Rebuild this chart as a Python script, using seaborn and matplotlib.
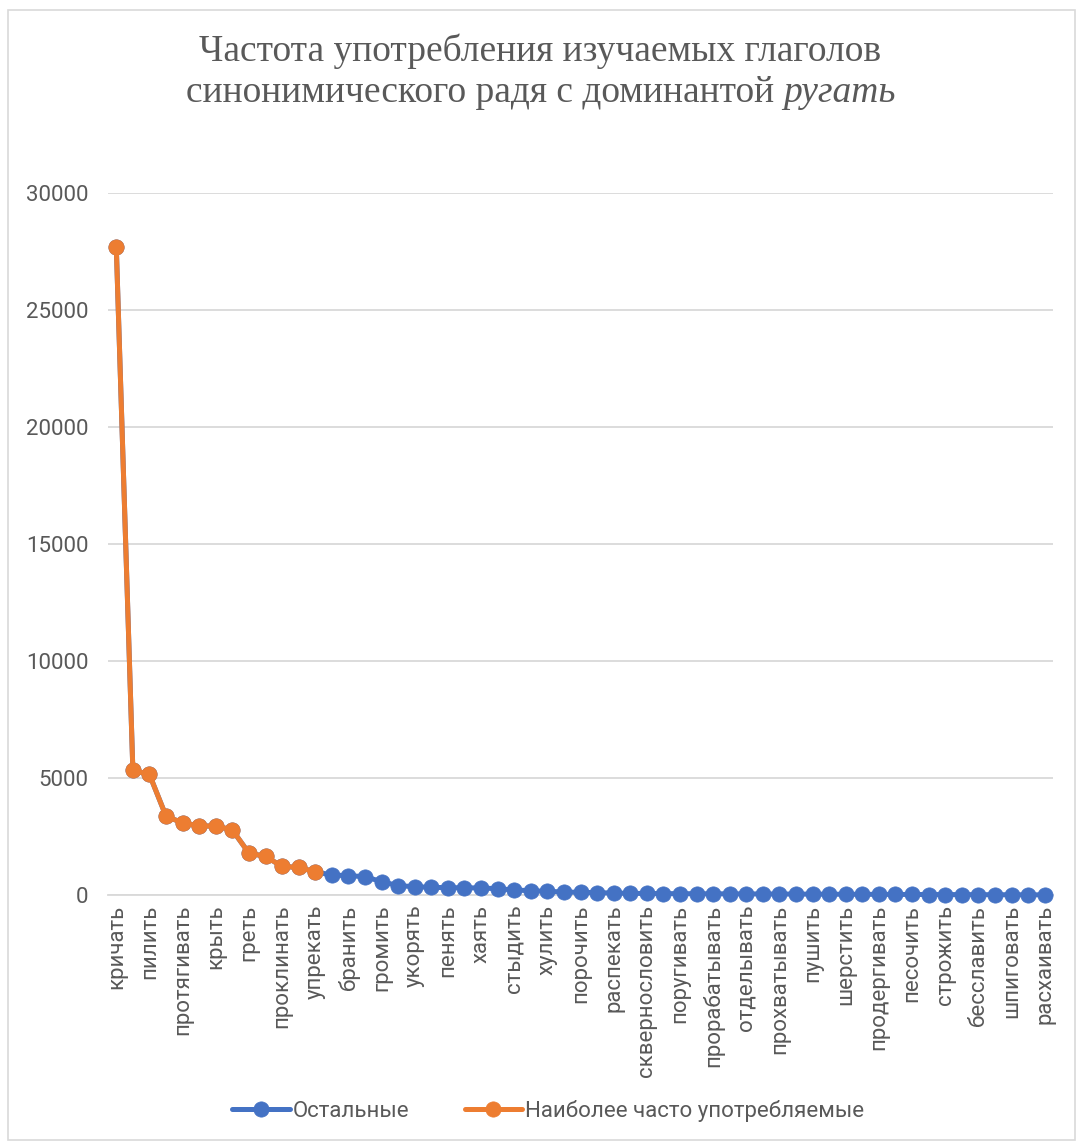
import numpy as np
import pandas as pd
import matplotlib
matplotlib.use("Agg")
import matplotlib.pyplot as plt
import matplotlib.patches as mpatches
import seaborn as sns

verbs = ["кричать", "ругать", "пилить", "поносить", "протягивать", "честить", "крыть",
         "костить", "греть", "журить", "проклинать", "корить", "упрекать", "отчитывать",
         "бранить", "разносить", "громить", "клясть", "укорять", "срамить", "пенять",
         "чернить", "хаять", "позорить", "стыдить", "клеймить", "хулить", "бичевать",
         "порочить", "обличать", "распекать", "материть", "сквернословить", "чихвостить",
         "поругивать", "лаять", "прорабатывать", "пробирать", "отделывать", "собачить",
         "прохватывать", "костерить", "пушить", "драконить", "шерстить", "цукать",
         "продергивать", "жучить", "песочить", "пропесочивать", "строжить", "гвоздить",
         "бесславить", "утюжить", "шпиговать", "поливать", "расхаивать"]
frequency = [27700, 5330, 5150, 3370, 3080, 2950, 2950, 2780, 1790, 1650, 1220, 1180, 990,
             855, 826, 784, 570, 400, 356, 328, 313, 310, 300, 270, 214, 185, 157, 128,
             114, 100, 85, 71, 65, 60, 57, 55, 52, 50, 48, 45, 42, 40, 37, 35, 32, 30,
             28, 25, 23, 21, 19, 17, 15, 13, 11, 9, 7]
n_top = 13
series_names = ["Остальные", "Наиболее часто употребляемые"]
colors = ["#4472C4", "#ED7D31"]
yticks = [0, 5000, 10000, 15000, 20000, 25000, 30000]

sns.set_theme(style="white")
plt.rcParams['font.family'] = ['Roboto', 'DejaVu Sans']

df_all = pd.DataFrame({"pos": np.arange(len(verbs)), "verb": verbs, "freq": frequency})
df_top = df_all.iloc[:n_top]

fig = plt.figure(figsize=(10.81, 11.42), dpi=100)
ax = fig.add_axes([108/1081, 1-895/1142, (1053-108)/1081, (895-193)/1142])

for d, c, lab in [(df_all, colors[0], series_names[0]), (df_top, colors[1], series_names[1])]:
    sns.lineplot(data=d, x="pos", y="freq", ax=ax, color=c, linewidth=3.6,
                 marker="o", markersize=11, markeredgecolor=c, markeredgewidth=0.5,
                 label=lab, clip_on=False, zorder=3)

ax.set_xlim(-0.5, len(verbs) - 0.5)
ax.set_ylim(0, 30000)
ax.set_yticks(yticks)
ax.set_yticklabels([str(v) for v in yticks], fontsize=16, color="#595959")
ax.set_xticks(np.arange(0, len(verbs), 2))
ax.set_xticklabels(verbs[::2], rotation=90, fontsize=16, color="#595959")
ax.tick_params(axis="y", length=0, pad=14)
ax.tick_params(axis="x", length=0, pad=7)
ax.set_xlabel("")
ax.set_ylabel("")
for s in ["top", "right", "left"]:
    ax.spines[s].set_visible(False)
ax.spines["bottom"].set_color("#d9d9d9")
ax.spines["bottom"].set_linewidth(1.3)
ax.yaxis.grid(True, color="#d9d9d9", linewidth=1.3)
ax.xaxis.grid(False)
ax.set_axisbelow(True)

leg = ax.legend(loc="center", bbox_to_anchor=(0.507, 0.027), bbox_transform=fig.transFigure,
                ncol=2, frameon=False, fontsize=16, handlelength=2.6, handletextpad=0.1,
                columnspacing=2.5)
for t in leg.get_texts():
    t.set_color("#595959")

# Title
tfont = dict(family="Liberation Serif", size=27, color="#595959")
fig.text(0.5, 1-51/1142, "Частота употребления изучаемых глаголов", ha="center", va="center", **tfont)
t1 = fig.text(0.5, 1-93/1142, "синонимического радя с доминантой ", ha="left", va="center", **tfont)
t2 = fig.text(0.5, 1-93/1142, "ругать", ha="left", va="center", style="italic", **tfont)
fig.canvas.draw()
r = fig.canvas.get_renderer()
w1 = t1.get_window_extent(r).width
w2 = t2.get_window_extent(r).width
W = fig.bbox.width
x0 = (W - (w1 + w2)) / 2
t1.set_x(x0 / W)
t2.set_x((x0 + w1) / W)

# chart border
fig.patches.append(mpatches.Rectangle((8/1081, 0.002), (1075-8)/1081, 1-10/1142-0.002,
                                      transform=fig.transFigure, fill=False,
                                      edgecolor="#d9d9d9", linewidth=1.2))

fig.savefig("out.png", dpi=100)
